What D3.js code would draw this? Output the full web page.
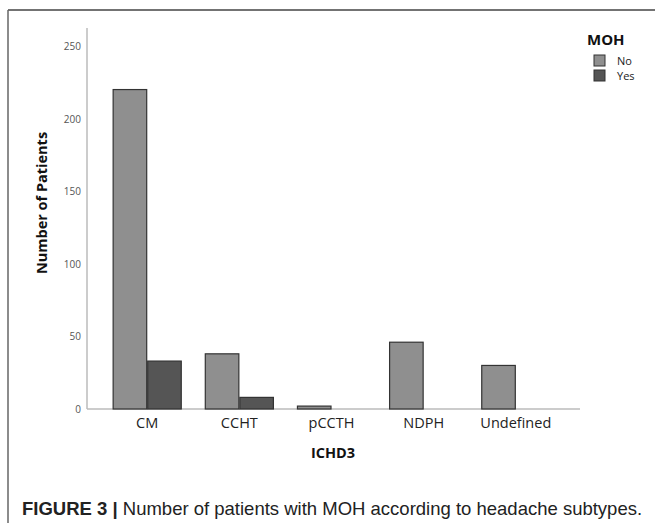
<!DOCTYPE html>
<html>
<head>
<meta charset="utf-8">
<script src="https://cdn.jsdelivr.net/npm/d3@7"></script>
<style>
  body { margin: 0; background: #fff; }
  svg text { font-family: "Open Sans", "DejaVu Sans", sans-serif; }
  svg text.caption { font-family: "Liberation Sans", Arial, sans-serif; }
</style>
</head>
<body>
<div class="canvas"></div>
<script>
// data
const categories = ["CM", "CCHT", "pCCTH", "NDPH", "Undefined"];
const groups = ["No", "Yes"];
const noValues = [220, 38, 2, 46, 30];
const yesValues = [33, 8, 0, 0, 0];
const yTicks = [0, 50, 100, 150, 200, 250];

const colors = d3.scaleOrdinal().domain(groups).range(["#8f8f8f", "#555555"]);

const svg = d3.select(".canvas")
              .append("svg")
              .attr("width", 655)
              .attr("height", 523);

// figure frame
svg.append("line").attr("x1", 8).attr("x2", 655).attr("y1", 10).attr("y2", 10)
   .attr("stroke", "#444").attr("stroke-width", 1.5);
svg.append("line").attr("x1", 8).attr("x2", 8).attr("y1", 10).attr("y2", 523)
   .attr("stroke", "#666").attr("stroke-width", 1.5);

const x = d3.scaleBand().domain(categories).range([85, 578])
            .paddingInner(0.25).paddingOuter(0.3);
const xSub = d3.scaleBand().domain(groups).range([0, x.bandwidth()]);
const y = d3.scaleLinear().domain([0, 250]).range([409, 46]);

// axes
svg.append("line").attr("x1", 87).attr("x2", 87).attr("y1", 28).attr("y2", 409)
   .attr("stroke", "#bbb").attr("stroke-width", 1.5);
svg.append("line").attr("x1", 87).attr("x2", 580).attr("y1", 409).attr("y2", 409)
   .attr("stroke", "#bbb").attr("stroke-width", 1.5);

svg.selectAll(".ytick").data(yTicks).enter().append("text")
   .attr("class", "ytick")
   .attr("x", 81).attr("y", d => y(d) + 4)
   .attr("text-anchor", "end")
   .attr("font-size", 10).attr("fill", "#555")
   .text(d => d);

svg.selectAll(".xtick").data(categories).enter().append("text")
   .attr("class", "xtick")
   .attr("x", d => x(d) + x.bandwidth() / 2).attr("y", 428)
   .attr("text-anchor", "middle")
   .attr("font-size", 14.5).attr("fill", "#222")
   .text(d => d);

// bars
const rows = categories.map((c, i) => ({cat: c, vals: [
  {g: "No", v: noValues[i]}, {g: "Yes", v: yesValues[i]}
]}));

const grp = svg.selectAll(".grp").data(rows).enter().append("g")
   .attr("transform", d => `translate(${x(d.cat)},0)`);

grp.selectAll("rect").data(d => d.vals.filter(e => e.v > 0)).enter().append("rect")
   .attr("x", d => xSub(d.g) + 0.5)
   .attr("width", xSub.bandwidth() - 1)
   .attr("y", d => y(d.v))
   .attr("height", d => y(0) - y(d.v))
   .attr("fill", d => colors(d.g))
   .attr("stroke", "#333")
   .attr("stroke-width", 1.2);

// axis titles
svg.append("text")
   .attr("transform", "translate(47,203) rotate(-90)")
   .attr("text-anchor", "middle")
   .attr("font-size", 14.5).attr("font-weight", "bold").attr("fill", "#111")
   .text("Number of Patients");

svg.append("text")
   .attr("x", 333).attr("y", 458)
   .attr("text-anchor", "middle")
   .attr("font-size", 14.5).attr("font-weight", "bold").attr("fill", "#111")
   .text("ICHD3");

// legend
svg.append("text").attr("x", 587).attr("y", 45)
   .attr("font-size", 15).attr("font-weight", "bold").attr("fill", "#111")
   .text("MOH");
const leg = svg.selectAll(".leg").data(groups).enter().append("g")
   .attr("transform", (d, i) => `translate(594,${55 + i * 15})`);
leg.append("rect").attr("width", 11).attr("height", 11)
   .attr("fill", d => colors(d)).attr("stroke", "#333").attr("stroke-width", 1);
leg.append("text").attr("x", 23).attr("y", 9.5)
   .attr("font-size", 11).attr("fill", "#222").text(d => d);

// caption
const cap = svg.append("text").attr("class", "caption").attr("x", 22).attr("y", 515)
   .attr("font-size", 18.5).attr("fill", "#222");
cap.append("tspan").attr("font-weight", "bold").text("FIGURE 3 |");
cap.append("tspan").text(" Number of patients with MOH according to headache subtypes.");
</script>
</body>
</html>
